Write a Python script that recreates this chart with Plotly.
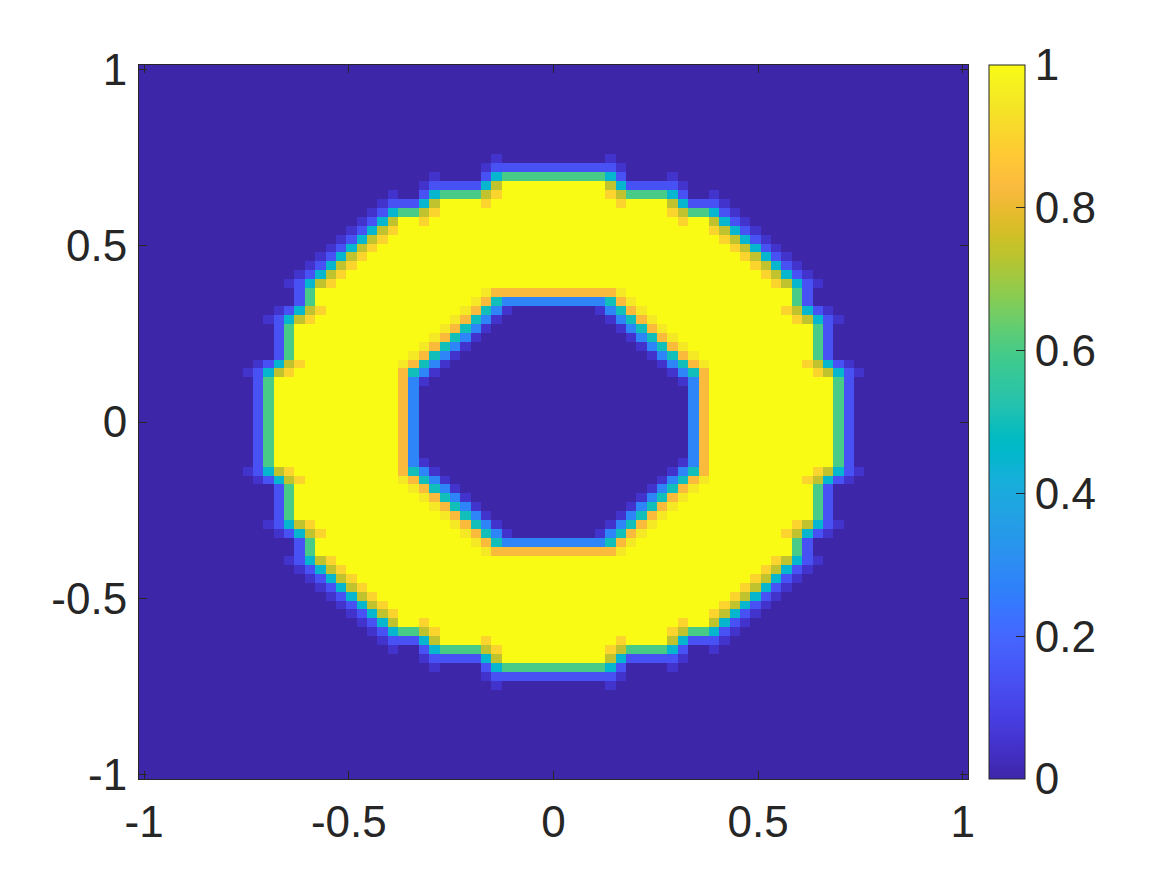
import numpy as np
import plotly.graph_objects as go

# ---- data -----------------------------------------------------------------
# 80 x 80 image on [-1, 1] x [-1, 1]; the field is symmetric in x and y,
# so one quadrant (top-left, 40 x 40, row 0 = y=1, col 0 = x=-1) is stored.
x_centers = np.linspace(-1, 1, 80)
y_centers = np.linspace(1, -1, 80)

level_values = {
    "0": 0.0, "f": 0.05, "b": 0.14, "B": 0.28, "c": 0.45, "C": 0.5,
    "g": 0.6, "o": 0.74, "r": 0.83, "R": 0.9, "y": 0.95, "1": 1.0,
}

quadrant_rows = [
    "0" * 40,  # r0
    "0" * 40,
    "0" * 40,
    "0" * 40,
    "0" * 40,
    "0" * 40,
    "0" * 40,
    "0" * 40,
    "0" * 40,
    "0" * 40,  # r9
    "0" * 34 + "f" + "0" * 5,                                   # r10
    "0" * 33 + "f" + "b" * 6,                                   # r11
    "0" * 28 + "f" + "0" * 4 + "b" + "c" + "g" * 5,             # r12
    "0" * 27 + "f" + "b" * 5 + "c" + "o" + "1" * 5,             # r13
    "0" * 24 + "f" + "00" + "b" + "c" + "g" * 4 + "o" + "R" + "1" * 5,  # r14
    "0" * 23 + "f" + "bbb" + "c" + "o" + "1111" + "R" + "1" * 6,         # r15
    "0" * 22 + "f" + "b" + "c" + "gg" + "o" + "R" + "1" * 11,   # r16
    "0" * 21 + "f" + "b" + "c" + "o" + "11" + "R" + "1" * 12,   # r17
    "0" * 20 + "fbcoR" + "1" * 15,                              # r18
    "0" * 19 + "fbcoR" + "1" * 16,                              # r19
    "0" * 18 + "fbcoR" + "1" * 17,                              # r20
    "0" * 17 + "fbcoR" + "1" * 18,                              # r21
    "0" * 16 + "fbcoR" + "1" * 19,                              # r22
    "0" * 15 + "fbcoR" + "1" * 20,                              # r23
    "0" * 14 + "fbcoR" + "1" * 21,                              # r24
    "0" * 15 + "bg" + "1" * 16 + "y" + "r" * 6,                 # r25
    "0" * 15 + "bg" + "1" * 15 + "yrC" + "B" * 5,               # r26
    "0" * 13 + "fbcoR" + "1" * 13 + "yrCBf" + "0" * 4,          # r27
    "0" * 12 + "fbcoR" + "1" * 13 + "yrCBf" + "0" * 5,          # r28
    "0" * 13 + "bg" + "1" * 14 + "yrCBf" + "0" * 6,             # r29
    "0" * 13 + "bg" + "1" * 13 + "yrCBf" + "0" * 7,             # r30
    "0" * 13 + "bg" + "1" * 12 + "yrCBf" + "0" * 8,             # r31
    "0" * 13 + "bg" + "1" * 11 + "yrCBf" + "0" * 9,             # r32
    "0" * 11 + "fbcoR" + "1" * 9 + "yrCBf" + "0" * 10,          # r33
    "0" * 10 + "fbcoR" + "1" * 10 + "rCBf" + "0" * 11,          # r34
    "0" * 11 + "bg" + "1" * 12 + "rBf" + "0" * 12,              # r35
    "0" * 11 + "bg" + "1" * 12 + "rB" + "0" * 13,               # r36
    "0" * 11 + "bg" + "1" * 12 + "rB" + "0" * 13,               # r37
    "0" * 11 + "bg" + "1" * 12 + "rB" + "0" * 13,               # r38
    "0" * 11 + "bg" + "1" * 12 + "rB" + "0" * 13,               # r39
]

axis_ticks = [-1, -0.5, 0, 0.5, 1]
axis_ticktext = ["-1", "-0.5", "0", "0.5", "1"]
cbar_ticks = [0, 0.2, 0.4, 0.6, 0.8, 1]
cbar_ticktext = ["0", "0.2", "0.4", "0.6", "0.8", "1"]

# ---- build grid (mirror the quadrant) ---------------------------------------
Q = np.array([[level_values[ch] for ch in row] for row in quadrant_rows])
top = np.hstack([Q, Q[:, ::-1]])
Z = np.vstack([top, top[::-1, :]])

# MATLAB parula (64 entries)
parula = [
    (0.2422, 0.1504, 0.6603), (0.2504, 0.1650, 0.7076), (0.2578, 0.1818, 0.7511),
    (0.2647, 0.1978, 0.7952), (0.2706, 0.2147, 0.8364), (0.2751, 0.2342, 0.8710),
    (0.2783, 0.2559, 0.8991), (0.2803, 0.2782, 0.9221), (0.2813, 0.3006, 0.9414),
    (0.2810, 0.3228, 0.9579), (0.2795, 0.3447, 0.9717), (0.2760, 0.3667, 0.9829),
    (0.2699, 0.3892, 0.9906), (0.2602, 0.4123, 0.9952), (0.2440, 0.4358, 0.9988),
    (0.2206, 0.4603, 0.9973), (0.1963, 0.4847, 0.9892), (0.1834, 0.5074, 0.9798),
    (0.1786, 0.5289, 0.9682), (0.1764, 0.5499, 0.9520), (0.1687, 0.5703, 0.9359),
    (0.1540, 0.5902, 0.9218), (0.1460, 0.6091, 0.9079), (0.1380, 0.6276, 0.8973),
    (0.1248, 0.6459, 0.8883), (0.1113, 0.6635, 0.8763), (0.0952, 0.6798, 0.8598),
    (0.0689, 0.6948, 0.8394), (0.0297, 0.7082, 0.8163), (0.0036, 0.7203, 0.7917),
    (0.0067, 0.7312, 0.7660), (0.0433, 0.7411, 0.7394), (0.0964, 0.7500, 0.7120),
    (0.1408, 0.7584, 0.6842), (0.1717, 0.7670, 0.6554), (0.1938, 0.7758, 0.6251),
    (0.2161, 0.7843, 0.5923), (0.2470, 0.7918, 0.5567), (0.2906, 0.7973, 0.5188),
    (0.3406, 0.8008, 0.4789), (0.3909, 0.8029, 0.4354), (0.4456, 0.8024, 0.3909),
    (0.5044, 0.7993, 0.3480), (0.5616, 0.7942, 0.3045), (0.6174, 0.7876, 0.2612),
    (0.6720, 0.7793, 0.2227), (0.7242, 0.7698, 0.1910), (0.7738, 0.7598, 0.1646),
    (0.8203, 0.7498, 0.1535), (0.8634, 0.7406, 0.1596), (0.9035, 0.7330, 0.1774),
    (0.9393, 0.7288, 0.2100), (0.9728, 0.7298, 0.2394), (0.9956, 0.7434, 0.2371),
    (0.9970, 0.7659, 0.2199), (0.9952, 0.7893, 0.2028), (0.9892, 0.8136, 0.1885),
    (0.9786, 0.8386, 0.1766), (0.9676, 0.8639, 0.1643), (0.9610, 0.8890, 0.1537),
    (0.9597, 0.9135, 0.1423), (0.9628, 0.9373, 0.1265), (0.9691, 0.9606, 0.1064),
    (0.9769, 0.9839, 0.0805),
]
colorscale = [
    [i / (len(parula) - 1),
     "rgb(%d,%d,%d)" % tuple(round(255 * v) for v in rgb)]
    for i, rgb in enumerate(parula)
]

FONT = "Liberation Sans, Arial, Helvetica, sans-serif"
INK = "#262626"
FS = 44

h = x_centers[1] - x_centers[0]
xr = [x_centers[0] - h / 2, x_centers[-1] + h / 2]
yr = [y_centers[-1] - h / 2, y_centers[0] + h / 2]

fig = go.Figure(
    go.Heatmap(
        z=Z, x=x_centers, y=y_centers,
        colorscale=colorscale, zmin=0, zmax=1,
        hoverinfo="skip",
        colorbar=dict(
            x=1.0253, xanchor="left", xpad=0,
            y=0.5, yanchor="middle", ypad=0,
            len=1, lenmode="fraction",
            thickness=36, thicknessmode="pixels",
            outlinewidth=1, outlinecolor=INK,
            tickvals=cbar_ticks, ticktext=cbar_ticktext,
            ticks="inside", ticklen=9, tickwidth=1, tickcolor=INK,
            tickfont=dict(size=FS, family=FONT, color=INK),
        ),
    )
)

axis_common = dict(
    tickvals=axis_ticks, ticktext=axis_ticktext,
    ticks="inside", ticklen=8, tickwidth=1, tickcolor=INK,
    showline=True, linecolor=INK, linewidth=1, mirror="ticks",
    showgrid=False, zeroline=False,
    tickfont=dict(size=FS, family=FONT, color=INK),
)

# the page body adds an 8 px offset, so the figure is placed accordingly
fig.update_layout(
    width=1159, height=867, autosize=False,
    margin=dict(l=131, r=199, t=57, b=96, pad=0),
    paper_bgcolor="white", plot_bgcolor="white",
    xaxis=dict(range=xr, ticklabelstandoff=4, **axis_common),
    yaxis=dict(range=yr, ticklabelstandoff=2, **axis_common),
)

fig.write_html("out.html")
